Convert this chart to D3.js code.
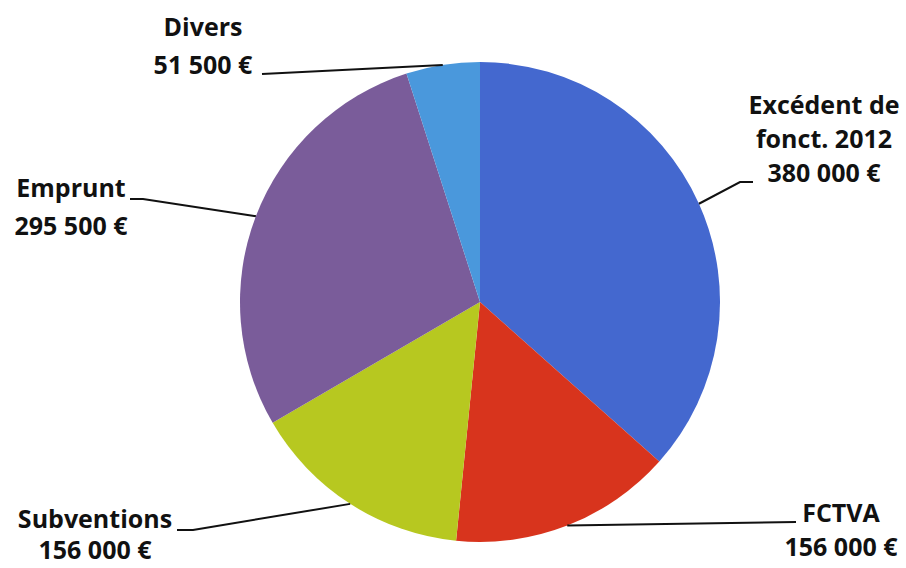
<!DOCTYPE html>
<html><head><meta charset="utf-8">
<script src="https://cdn.jsdelivr.net/npm/d3@7"></script>
<style>html,body{margin:0;padding:0;background:#fff;}svg{display:block;}</style>
</head><body>
<svg id="c" width="906" height="568"></svg>
<script>
const categories = ["Excédent de fonct. 2012", "FCTVA", "Subventions", "Emprunt", "Divers"];
const values = [380000, 156000, 156000, 295500, 51500];
const labelLines = [["Excédent de", "fonct. 2012", "380 000 €"], ["FCTVA", "156 000 €"], ["Subventions", "156 000 €"], ["Emprunt", "295 500 €"], ["Divers", "51 500 €"]];
const colors = ["#4468cf", "#d8341d", "#b7c820", "#7a5c9a", "#4a98dc"];

// layout (not data)
const cx = 480, cy = 302, R = 240;
const labelPos = [
  {x: 824, y: 114, dy: 34, lead: [[740,182],[753,182]]},
  {x: 841, y: 522, dy: 34, lead: [[796,522]]},
  {x: 95,  y: 528, dy: 31, lead: [[193,530],[177,530]]},
  {x: 71,  y: 197, dy: 38, lead: [[143,199],[130,199]]},
  {x: 203, y: 36,  dy: 38, lead: [[262,74]]}
];

const svg = d3.select("#c");
const g = svg.append("g").attr("transform", `translate(${cx},${cy})`);
const pie = d3.pie().sort(null).value(d => d)(values);
const arc = d3.arc().innerRadius(0).outerRadius(R);
g.selectAll("path.s").data(pie).join("path").attr("class","s")
  .attr("d", arc).attr("fill", (d,i) => colors[i]);

const edge = d3.arc().innerRadius(R).outerRadius(R);
pie.forEach((d, i) => {
  const a = (d.startAngle + d.endAngle) / 2;
  const p0 = [cx + R * Math.sin(a), cy - R * Math.cos(a)];
  const pts = [p0].concat(labelPos[i].lead);
  svg.append("path").attr("d", d3.line()(pts)).attr("fill","none")
    .attr("stroke","#111").attr("stroke-width",2);
  const t = svg.append("text").attr("text-anchor","middle")
    .attr("font-family","'Open Sans', sans-serif").attr("font-weight",700)
    .attr("font-size",25).attr("fill","#111");
  labelLines[i].forEach((s, k) => {
    t.append("tspan").attr("x", labelPos[i].x).attr("y", labelPos[i].y + k * labelPos[i].dy).text(s);
  });
});
</script>
</body></html>
